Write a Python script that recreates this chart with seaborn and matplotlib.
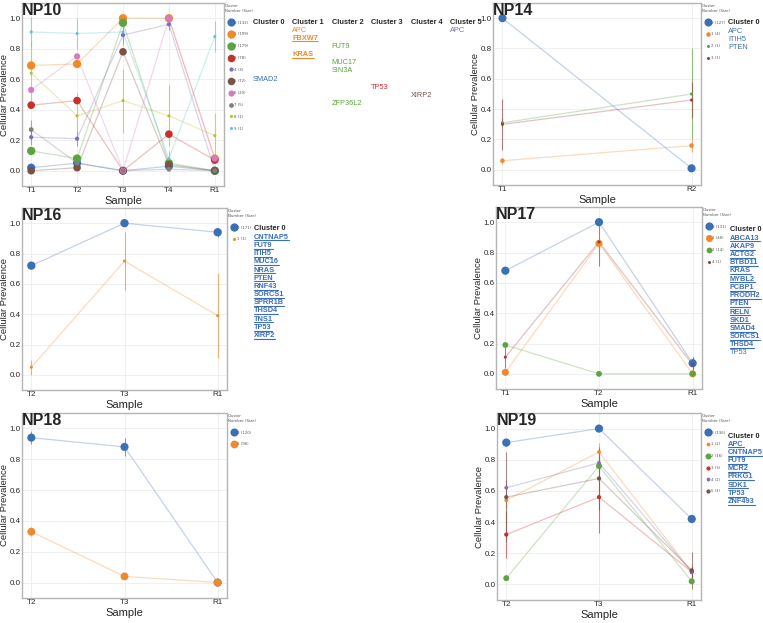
import numpy as np
import pandas as pd
import matplotlib
matplotlib.use('Agg')
import matplotlib.pyplot as plt
from matplotlib.lines import Line2D
import seaborn as sns

sns.set_theme(style='whitegrid')
plt.rcParams['font.family'] = ['DejaVu Sans']

W, H = 763, 623

BLUE, ORANGE, GREEN, RED = '#3b6fb6', '#f0892a', '#5ba43e', '#c9302c'
PURPLE, BROWN, PINK, GRAY = '#7f6fb5', '#7b5247', '#d67ac6', '#7f7f7f'
OLIVE, CYAN, DARKRED = '#bcbd22', '#5fc4d6', '#9e3a3a'

# ---------------- data ----------------
np10_samples = ['T1', 'T2', 'T3', 'T4', 'R1']
np10_clusters = [0, 1, 2, 3, 4, 5, 6, 7, 8, 9]
np10_sizes = [132, 199, 179, 78, 3, 72, 20, 5, 1, 1]
np10_colors = [BLUE, ORANGE, GREEN, RED, PURPLE, BROWN, PINK, GRAY, OLIVE, CYAN]
np10_prev = [[0.02, 0.05, 0.00, 0.03, 0.00],
             [0.69, 0.70, 1.00, 1.00, 0.08],
             [0.13, 0.08, 0.97, 0.05, 0.00],
             [0.43, 0.46, 0.00, 0.24, 0.07],
             [0.22, 0.21, 0.89, 0.96, 0.00],
             [0.00, 0.02, 0.78, 0.04, 0.00],
             [0.53, 0.75, 0.00, 1.00, 0.08],
             [0.27, 0.05, 0.00, 0.01, 0.00],
             [0.64, 0.36, 0.46, 0.36, 0.23],
             [0.91, 0.90, 0.91, 0.08, 0.88]]
np10_err = [[0, 0, 0, 0, 0],
            [0, 0, 0, 0, 0.02],
            [0, 0, 0, 0, 0],
            [0, 0, 0, 0, 0],
            [0.05, 0.05, 0.05, 0.04, 0],
            [0, 0, 0, 0, 0],
            [0, 0, 0, 0, 0],
            [0.06, 0, 0, 0, 0],
            [0.21, 0.15, 0.21, 0.20, 0.15],
            [0.10, 0.10, 0.09, 0.05, 0.10]]
np10_genes = [['SMAD2'], ['APC', 'FBXW7', 'KRAS'], ['FUT9', 'MUC17', 'SIN3A', 'ZFP36L2'],
              ['TP53'], ['XIRP2'], ['APC']]
np10_gene_colors = [BLUE, ORANGE, GREEN, RED, BROWN, PURPLE]
np10_linked = ['FBXW7', 'KRAS']

np14_samples = ['T1', 'R2']
np14_clusters = [0, 1, 2, 3]
np14_sizes = [127, 4, 1, 1]
np14_colors = [BLUE, ORANGE, GREEN, DARKRED]
np14_prev = [[1.00, 0.01], [0.06, 0.16], [0.31, 0.50], [0.30, 0.46]]
np14_err = [[0, 0], [0.02, 0.04], [0.03, 0.30], [0.17, 0.12]]
np14_genes = ['APC', 'ITIH5', 'PTEN']
np14_linked = []

np16_samples = ['T2', 'T3', 'R1']
np16_clusters = [0, 1]
np16_sizes = [171, 1]
np16_colors = [BLUE, ORANGE]
np16_prev = [[0.72, 1.00, 0.94], [0.05, 0.75, 0.39]]
np16_err = [[0, 0, 0.03], [0.05, 0.19, 0.28]]
np16_genes = ['CNTNAP5', 'FUT9', 'ITIH5', 'MUC16', 'NRAS', 'PTEN', 'RNF43', 'SORCS1',
              'SPRR1B', 'THSD4', 'TNS1', 'TP53', 'XIRP2']
np16_linked = np16_genes

np17_samples = ['T1', 'T2', 'R1']
np17_clusters = [0, 1, 2, 4]
np17_sizes = [131, 46, 14, 1]
np17_colors = [BLUE, ORANGE, GREEN, DARKRED]
np17_prev = [[0.68, 1.00, 0.07], [0.01, 0.86, 0.00], [0.19, 0.00, 0.00], [0.11, 0.87, 0.06]]
np17_err = [[0, 0, 0.04], [0, 0, 0], [0, 0, 0], [0.07, 0.16, 0.05]]
np17_genes = ['ABCA13', 'AKAP9', 'ACTG2', 'BTBD11', 'KRAS', 'MYBL2', 'PCBP1', 'PRODH2',
              'PTEN', 'RELN', 'SKD1', 'SMAD4', 'SORCS1', 'THSD4', 'TP53']
np17_linked = np17_genes[:-1]

np18_samples = ['T2', 'T3', 'R1']
np18_clusters = [0, 1]
np18_sizes = [120, 96]
np18_colors = [BLUE, ORANGE]
np18_prev = [[0.94, 0.88, 0.00], [0.33, 0.04, 0.00]]
np18_err = [[0.04, 0.06, 0], [0.03, 0, 0]]

np19_samples = ['T2', 'T3', 'R1']
np19_clusters = [0, 1, 2, 3, 4, 5]
np19_sizes = [136, 2, 16, 3, 2, 3]
np19_colors = [BLUE, ORANGE, GREEN, RED, PURPLE, BROWN]
np19_prev = [[0.91, 1.00, 0.42], [0.54, 0.85, 0.08], [0.04, 0.76, 0.02],
             [0.32, 0.56, 0.08], [0.62, 0.78, 0.08], [0.56, 0.68, 0.09]]
np19_err = [[0, 0, 0], [0.05, 0.06, 0.03], [0, 0, 0],
            [0.15, 0.23, 0.04], [0.05, 0.05, 0.03], [0.29, 0.20, 0.12]]
np19_genes = ['APC', 'CNTNAP5', 'FUT9', 'MCR2', 'PRKG1', 'SDK1', 'TP53', 'ZNF493']
np19_linked = np19_genes

# ---------------- helpers ----------------
fig = plt.figure(figsize=(W / 100, H / 100), dpi=100)


def px_axes(l, t, r, b):
    ax = fig.add_axes([l / W, 1 - b / H, (r - l) / W, (b - t) / H])
    ax.width_px = r - l
    return ax


def diam(size):
    return float(np.interp(np.log(size), [0, np.log(150)], [2.2, 6.0]))


def draw_patient(ax, name, samples, clusters, sizes, colors, prev, err):
    rows = []
    for c, vals in zip(clusters, prev):
        for i, v in enumerate(vals):
            rows.append({'x': i, 'prev': v, 'cluster': c})
    df = pd.DataFrame(rows)
    pal = dict(zip(clusters, colors))
    size_map = {c: diam(s) ** 2 for c, s in zip(clusters, sizes)}

    sns.lineplot(data=df, x='x', y='prev', hue='cluster', palette=pal, estimator=None,
                 sort=False, lw=0.9, alpha=0.3, legend=False, ax=ax)
    for c, col, vals, e in zip(clusters, colors, prev, err):
        ax.errorbar(np.arange(len(vals)), vals, yerr=e, fmt='none', ecolor=col,
                    elinewidth=0.8, alpha=0.65, capsize=0)
    sns.scatterplot(data=df, x='x', y='prev', hue='cluster', size='cluster',
                    sizes=size_map, palette=pal, edgecolor='none', legend=False,
                    ax=ax, zorder=3)

    ax.set_xticks(range(len(samples)))
    ax.set_xticklabels(samples)
    ax.set_ylim(-0.1, 1.1)
    ax.set_yticks([0, 0.2, 0.4, 0.6, 0.8, 1.0])
    ax.set_yticklabels(['0.0', '0.2', '0.4', '0.6', '0.8', '1.0'])
    ax.tick_params(labelsize=5.8, pad=1.0, length=0)
    for t in ax.get_xticklabels() + ax.get_yticklabels():
        t.set_family('Liberation Sans')
    ax.grid(color='#eeeeee', lw=0.6)
    for sp in ax.spines.values():
        sp.set_color('#b5b5b5')
        sp.set_linewidth(1.0)
    ax.set_xlabel('Sample', fontsize=8, labelpad=1, family='Liberation Sans')
    ax.set_ylabel('Cellular Prevalence', fontsize=6.8, family='Liberation Sans',
                  va='center')
    ax.yaxis.set_label_coords(-17.8 / ax.width_px, 0.5)
    ax.text(0.0, 1.0, name, transform=ax.transAxes, ha='left', va='top',
            fontsize=11.5, fontweight='bold', family='Liberation Sans')

    handles = [Line2D([], [], marker='o', ls='', color=col, markersize=diam(s),
                      markeredgewidth=0) for col, s in zip(colors, sizes)]
    labels = [f'{c} ({s})' for c, s in zip(clusters, sizes)]
    leg = ax.legend(handles, labels, title='Cluster\nNumber (Size)', loc='upper left',
                    bbox_to_anchor=(1.0, 1.0), frameon=False, fontsize=2.8,
                    title_fontsize=2.8, labelspacing=2.0, handletextpad=0.4,
                    handlelength=0.8, borderaxespad=0.1, borderpad=0.2)
    for t in leg.get_texts():
        t.set_color('#555555')
    leg.get_title().set_color('#555555')


underline_list = []


def gene_text(x, y, s, color, linked, bold=False):
    t = fig.text(x / W, 1 - y / H, s, color=color, fontsize=5.3, ha='left', va='center',
                 family='Liberation Sans', fontweight='bold' if bold else 'normal')
    if linked:
        underline_list.append((t, color))
    return t


def gene_column(x, y0, genes, linked, color=BLUE):
    fig.text(x / W, 1 - y0 / H, 'Cluster 0', fontsize=5.3, fontweight='bold',
             ha='left', va='center', family='Liberation Sans')
    for i, g in enumerate(genes):
        gene_text(x, y0 + 8.2 * (i + 1), g, color, g in linked, bold=g in linked)


# ---------------- panels ----------------
ax10 = px_axes(22, 3, 224, 186)
draw_patient(ax10, 'NP10', np10_samples, np10_clusters, np10_sizes, np10_colors,
             np10_prev, np10_err)
ax14 = px_axes(493, 3, 701, 185)
draw_patient(ax14, 'NP14', np14_samples, np14_clusters, np14_sizes, np14_colors,
             np14_prev, np14_err)
ax16 = px_axes(22, 208, 227, 390)
draw_patient(ax16, 'NP16', np16_samples, np16_clusters, np16_sizes, np16_colors,
             np16_prev, np16_err)
ax17 = px_axes(496, 207, 702, 389)
draw_patient(ax17, 'NP17', np17_samples, np17_clusters, np17_sizes, np17_colors,
             np17_prev, np17_err)
ax18 = px_axes(22, 413, 227, 598)
draw_patient(ax18, 'NP18', np18_samples, np18_clusters, np18_sizes, np18_colors,
             np18_prev, np18_err)
ax19 = px_axes(497, 413, 701, 600)
draw_patient(ax19, 'NP19', np19_samples, np19_clusters, np19_sizes, np19_colors,
             np19_prev, np19_err)

# NP10 gene table: one column per cluster, one row per gene (alphabetical)
all_genes = sorted({g for col in np10_genes for g in col})
for k, (genes, col) in enumerate(zip(np10_genes, np10_gene_colors)):
    x = 253 + 39.4 * k
    fig.text(x / W, 1 - 22 / H, f'Cluster {k}', fontsize=5.3, fontweight='bold',
             ha='left', va='center', family='Liberation Sans')
    for g in genes:
        gene_text(x, 30 + 8.2 * all_genes.index(g), g, col, g in np10_linked,
                  bold=g in np10_linked)

gene_column(728, 23, np14_genes, np14_linked)
gene_column(254, 229, np16_genes, np16_linked)
gene_column(730, 230, np17_genes, np17_linked)
gene_column(728, 436, np19_genes, np19_linked)

# underline the linked gene names
fig.canvas.draw()
renderer = fig.canvas.get_renderer()
for t, col in underline_list:
    bb = t.get_window_extent(renderer)
    fig.add_artist(Line2D([bb.x0, bb.x1], [bb.y0 + 0.3, bb.y0 + 0.3], transform=None,
                          color=col, lw=0.8))

fig.savefig('out.png', dpi=100)
